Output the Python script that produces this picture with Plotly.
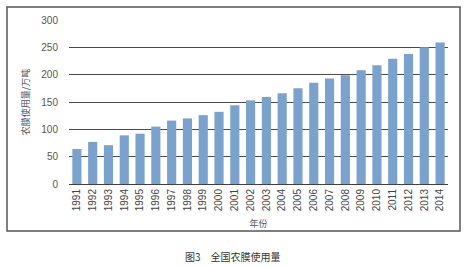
import plotly.graph_objects as go

years = [str(y) for y in range(1991, 2015)]
usage = [64, 77, 71, 89, 92, 105, 116, 120, 126, 132, 144, 153, 159, 166,
         175, 185, 193, 199, 208, 217, 229, 238, 250, 259]
y_ticks = [0, 50, 100, 150, 200, 250, 300]

fig = go.Figure(go.Bar(x=years, y=usage, marker_color="#7BA2CC",
                       marker_line_width=0))

fig.update_layout(
    width=467, height=267,
    margin=dict(l=69, r=19, t=20, b=83),
    paper_bgcolor="white", plot_bgcolor="white",
    bargap=0.42,
    showlegend=False,
    font=dict(family="Noto Sans CJK SC", color="#555555", size=10),
    xaxis=dict(tickangle=-90, tickfont=dict(size=10, family="Liberation Sans", color="#444"),
               showgrid=False, showline=True, linecolor="#404040", linewidth=1,
               ticks="", title=dict(text="年份", font=dict(size=9), standoff=10)),
    yaxis=dict(range=[0, 300], tickvals=y_ticks, showgrid=True,
               gridcolor="#4a4a4a", gridwidth=1, zeroline=False,
               tickfont=dict(size=10, family="Liberation Sans", color="#555"),
               ticklabelstandoff=10,
               title=dict(text="农膜使用量/万吨", font=dict(size=9), standoff=10)),
    shapes=[dict(type="rect", xref="paper", yref="paper",
                 x0=-0.1636, x1=1.0317, y0=-0.2866, y1=1.079,
                 line=dict(color="#555555", width=1.5))],
    annotations=[dict(text="图3　全国农膜使用量", xref="paper", yref="paper",
                      x=(233 - 69) / 379, y=(184 - 256) / 164,
                      xanchor="center", yanchor="middle",
                      showarrow=False, font=dict(size=10, color="#333"))],
)

fig.write_html("out.html")
